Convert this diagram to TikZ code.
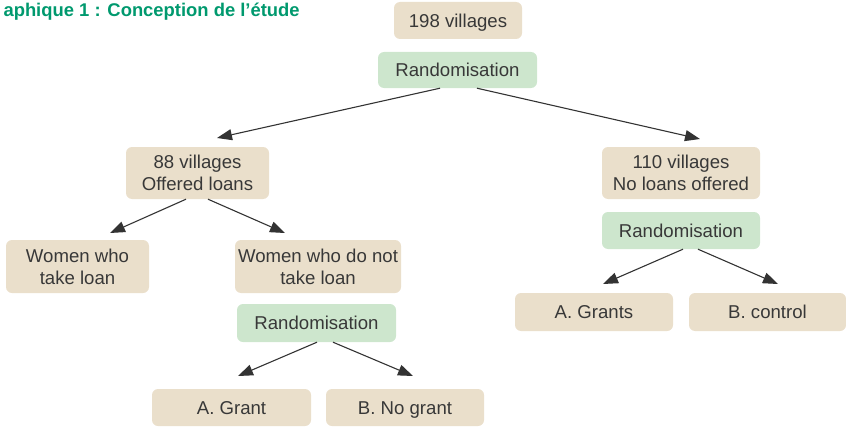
\documentclass[tikz,border=0pt]{standalone}
\usepackage{fontspec}
\setmainfont{Liberation Sans}
\usepackage{tikz}
\usetikzlibrary{arrows.meta, calc}
\usepackage{xcolor}
\definecolor{beige}{HTML}{EADFCB}
\definecolor{mint}{HTML}{CDE6CD}
\definecolor{titlegreen}{HTML}{00996E}
\definecolor{ink}{HTML}{383838}
\definecolor{arrowgray}{HTML}{333333}

\tikzset{
  vbox/.style={fill=beige, rounded corners=6pt, inner sep=0pt, align=center, text=ink,
    font=\fontsize{18.6}{21.7}\selectfont},
  rbox/.style={vbox, fill=mint},
  oneline/.style={text height=13.4pt, text depth=0pt},
  link/.style={-{Triangle[length=15pt, width=11pt]}, draw=arrowgray, line width=1.1pt}
}

\begin{document}
\begin{tikzpicture}[x=1pt, y=-1pt]
  \useasboundingbox (0,0) rectangle (846,428);
  \node[anchor=west, text=titlegreen, font=\fontsize{18.4}{21}\selectfont\bfseries] (title) at (0,12) {aphique 1 : Conception de l’étude};
  % Boxes
  \node[vbox, oneline, minimum width=128pt, minimum height=37pt] (v198) at (458,20.5) {198 villages};
  \node[rbox, oneline, minimum width=159pt, minimum height=36pt] (rtop) at (457.5,70) {Randomisation};
  \node[vbox, minimum width=143pt, minimum height=52pt] (v88) at (197.5,173) {88 villages\\Offered loans};
  \node[vbox, minimum width=158pt, minimum height=52pt] (v110) at (681,173) {110 villages\\No loans offered};
  \node[vbox, minimum width=143pt, minimum height=53pt] (take) at (77.5,266.5) {Women who\\take loan};
  \node[vbox, minimum width=166pt, minimum height=53pt] (nottake) at (318,266.5) {Women who do not\\take loan};
  \node[rbox, oneline, minimum width=158pt, minimum height=37pt] (rright) at (681,230.5) {Randomisation};
  \node[vbox, oneline, minimum width=158pt, minimum height=38pt] (grants) at (594,312) {A. Grants};
  \node[vbox, oneline, minimum width=157pt, minimum height=38pt] (control) at (767.5,312) {B. control};
  \node[rbox, oneline, minimum width=159pt, minimum height=38pt] (rbot) at (316.5,323) {Randomisation};
  \node[vbox, oneline, minimum width=159pt, minimum height=37pt] (grant) at (231.5,407.5) {A. Grant};
  \node[vbox, oneline, minimum width=158pt, minimum height=37pt] (nogrant) at (405,407.5) {B. No grant};
  % Arrow tips
  \coordinate (t88) at (217,138);
  \coordinate (t110) at (700,139);
  \coordinate (ttake) at (110,233);
  \coordinate (tnot) at (285,233);
  \coordinate (tgrants) at (603,284);
  \coordinate (tcontrol) at (778,284);
  \coordinate (tgrant) at (238,376);
  \coordinate (tnogrant) at (413,376);
  % Arrows
  \draw[link] ([xshift=-17.5pt]rtop.south) -- (t88);
  \draw[link] ([xshift=19.5pt]rtop.south) -- (t110);
  \draw[link] ([xshift=-11.5pt]v88.south) -- (ttake);
  \draw[link] ([xshift=10.5pt]v88.south) -- (tnot);
  \draw[link] ([xshift=2pt]rright.south) -- (tgrants);
  \draw[link] ([xshift=17pt]rright.south) -- (tcontrol);
  \draw[link] ([xshift=0.5pt]rbot.south) -- (tgrant);
  \draw[link] ([xshift=16.5pt]rbot.south) -- (tnogrant);
\end{tikzpicture}
\end{document}
